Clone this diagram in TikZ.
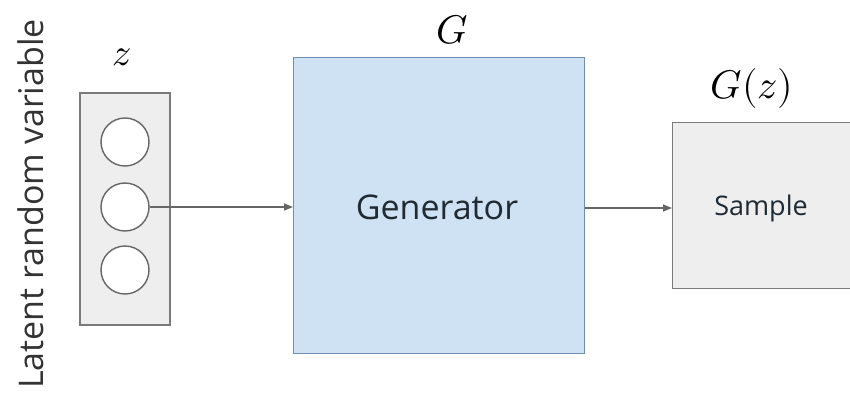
\documentclass[tikz,border=0pt]{standalone}
\usepackage{fontspec}
\usepackage{unicode-math}
\setmathfont{Latin Modern Math}
\setsansfont{Open Sans}
\usetikzlibrary{arrows.meta}
\definecolor{genfill}{HTML}{CFE2F3}
\definecolor{gendraw}{HTML}{6E8EB3}
\definecolor{boxfill}{HTML}{EEEEEE}
\definecolor{boxdraw}{HTML}{7A7A7A}
\definecolor{linecol}{HTML}{666666}
\definecolor{txtcol}{HTML}{1F2A33}
\begin{document}
\begin{tikzpicture}[x=1pt,y=-1pt,
  panel/.style={draw=boxdraw,fill=boxfill,line width=1.4pt},
  unit/.style={circle,draw=linecol,fill=white,line width=1.4pt,minimum size=48pt,inner sep=0pt},
  genbox/.style={draw=gendraw,fill=genfill,line width=1.4pt},
  flow/.style={draw=linecol,line width=1.4pt,-{Triangle[length=9pt,width=7pt]}},
  lbl/.style={font=\sffamily,text=txtcol,inner sep=0pt},
  mathlbl/.style={inner sep=0pt}]
\useasboundingbox (0,0) rectangle (850,409);
% latent vector
\draw[panel] (80,93) rectangle (170,325);
\node[unit] (z1) at (125,142) {};
\node[unit] (z2) at (125,207) {};
\node[unit] (z3) at (125,270) {};
\node[mathlbl,font=\fontsize{38}{38}\selectfont] (zl) at (122,57) {$z$};
\node[lbl,rotate=90,font=\sffamily\fontsize{34}{34}\selectfont,text=black!80] (lat) at (31,204) {Latent random variable};
% generator
\node[genbox,minimum width=291pt,minimum height=296pt,anchor=north west] (gen) at (293,57) {};
\node[lbl,font=\sffamily\fontsize{34}{34}\selectfont] (gentxt) at (437,207) {Generator};
\node[mathlbl,font=\fontsize{40}{40}\selectfont] (gl) at (452,30) {$G$};
% sample
\node[panel,minimum width=178pt,minimum height=166pt,anchor=north west] (smp) at (672,122) {};
\node[lbl,font=\sffamily\fontsize{27}{27}\selectfont] (smptxt) at (761,208) {Sample};
\node[mathlbl,font=\fontsize{40}{40}\selectfont] (sl) at (752,89) {$G(z)$};
% connections
\draw[flow] (z2.east) -- (gen.west |- z2.east);
\draw[flow] (gen.east |- 0,208) coordinate (gout) -- (smp.west |- gout);
\end{tikzpicture}
\end{document}
